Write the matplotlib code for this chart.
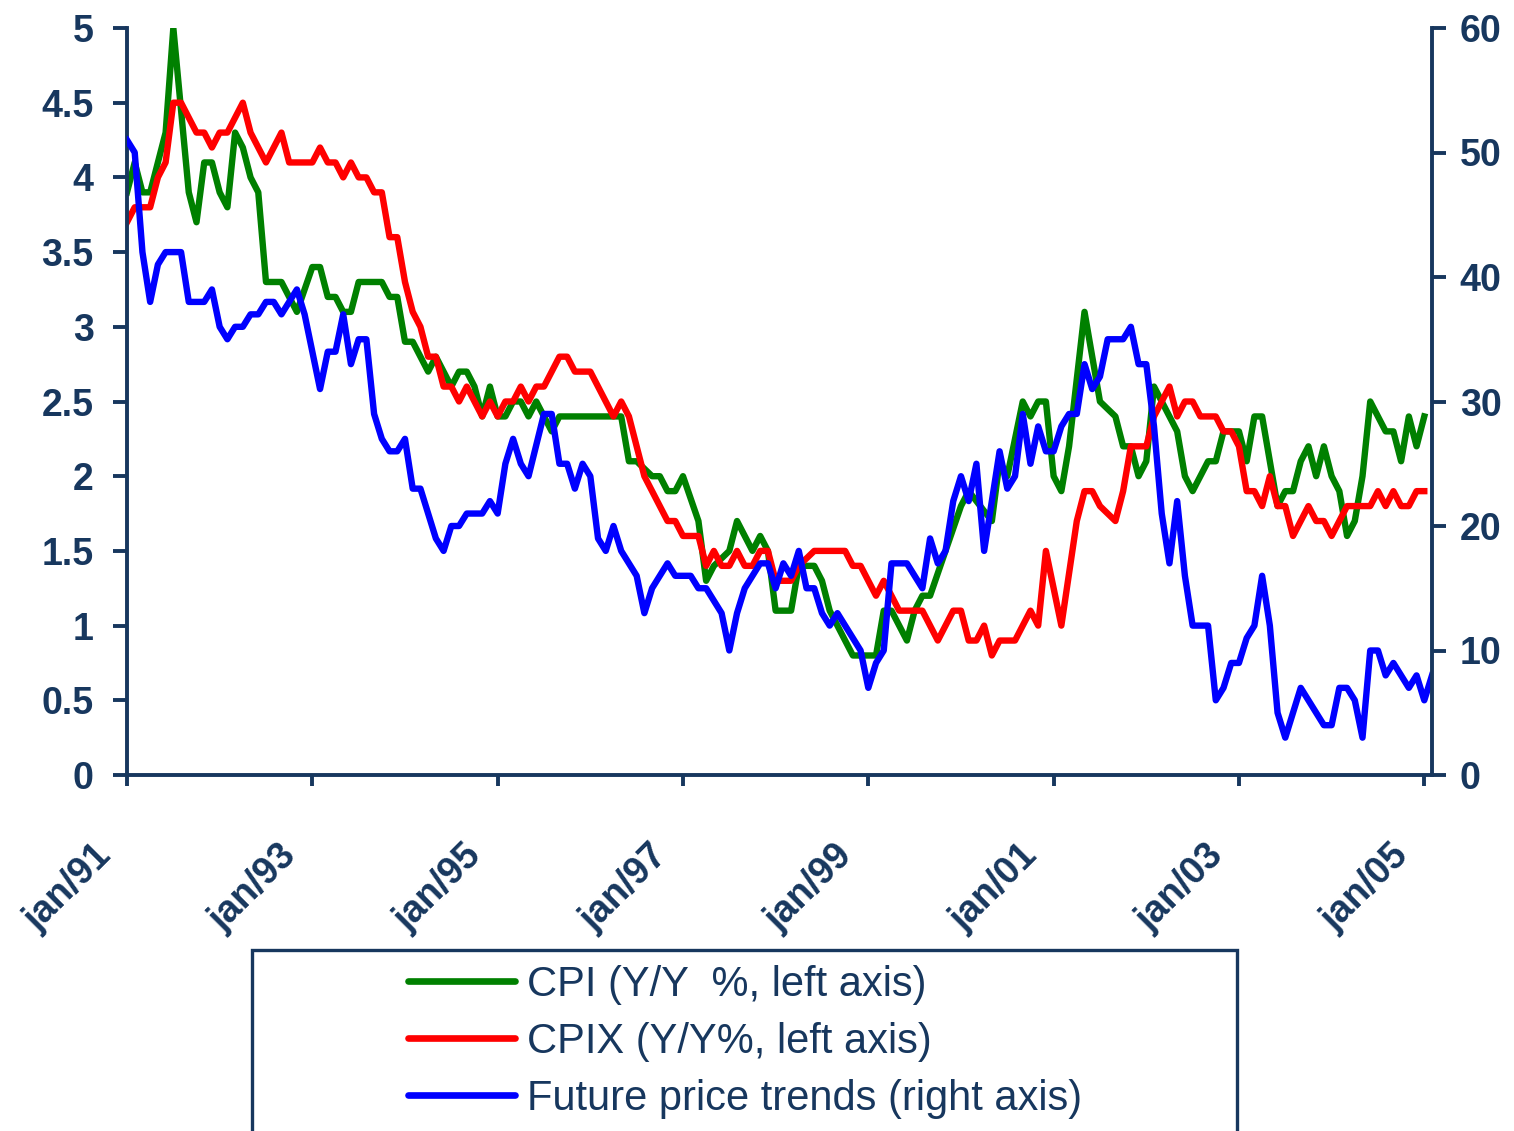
import numpy as np
import matplotlib
matplotlib.use("Agg")
import matplotlib.pyplot as plt
import matplotlib.transforms as mtransforms
from matplotlib import font_manager
from matplotlib.patches import Rectangle

plt.rcParams['font.family'] = ['Liberation Sans', 'DejaVu Sans']

# months counted from jan/91 (0) to jan/05 (168); vertices
cpi_month = [0, 1, 2, 3, 5, 6, 8, 9, 10, 11, 12, 13, 14, 15, 16, 17, 18, 20, 21, 22,
             24, 25, 26, 27, 28, 29, 30, 33, 34, 35, 36, 37, 38, 39, 40, 41, 42, 43, 44,
             45, 46, 47, 48, 49, 50, 51, 52, 53, 55, 56, 63, 64, 65, 66, 68, 69, 70, 71,
             72, 74, 75, 76, 78, 79, 81, 82, 83, 84, 86, 87, 89, 90, 91, 92, 94, 97, 98,
             99, 101, 102, 103, 104, 106, 108, 109, 112, 113, 114, 116, 117, 118, 119,
             120, 121, 122, 124, 126, 128, 129, 130, 131, 132, 133, 134, 136, 137, 138,
             140, 141, 142, 144, 145, 146, 147, 149, 150, 151, 152, 153, 154, 155, 156,
             157, 158, 159, 160, 161, 163, 164, 165, 166, 167, 168]
cpi = [3.9, 4.1, 3.9, 3.9, 4.3, 5.0, 3.9, 3.7, 4.1, 4.1, 3.9, 3.8, 4.3, 4.2, 4.0, 3.9, 3.3, 3.3, 3.2, 3.1,
       3.4, 3.4, 3.2, 3.2, 3.1, 3.1, 3.3, 3.3, 3.2, 3.2, 2.9, 2.9, 2.8, 2.7, 2.8, 2.7, 2.6, 2.7, 2.7,
       2.6, 2.4, 2.6, 2.4, 2.4, 2.5, 2.5, 2.4, 2.5, 2.3, 2.4, 2.4, 2.4, 2.1, 2.1, 2.0, 2.0, 1.9, 1.9,
       2.0, 1.7, 1.3, 1.4, 1.5, 1.7, 1.5, 1.6, 1.5, 1.1, 1.1, 1.4, 1.4, 1.3, 1.1, 1.0, 0.8, 0.8, 1.1,
       1.1, 0.9, 1.1, 1.2, 1.2, 1.5, 1.8, 1.9, 1.7, 2.1, 2.0, 2.5, 2.4, 2.5, 2.5,
       2.0, 1.9, 2.2, 3.1, 2.5, 2.4, 2.2, 2.2, 2.0, 2.1, 2.6, 2.5, 2.3, 2.0, 1.9,
       2.1, 2.1, 2.3, 2.3, 2.1, 2.4, 2.4, 1.8, 1.9, 1.9, 2.1, 2.2, 2.0, 2.2, 2.0,
       1.9, 1.6, 1.7, 2.0, 2.5, 2.3, 2.3, 2.1, 2.4, 2.2, 2.4]

cpix_month = [0, 1, 3, 4, 5, 6, 7, 9, 10, 11, 12, 13, 15, 16, 18, 20, 21, 24, 25, 26, 27,
              28, 29, 30, 31, 32, 33, 34, 35, 36, 37, 38, 39, 40, 41, 42, 43, 44, 46, 47,
              48, 49, 50, 51, 52, 53, 54, 56, 57, 58, 60, 61, 63, 64, 65, 67, 69, 70, 71,
              72, 74, 75, 76, 77, 78, 79, 80, 81, 82, 83, 84, 86, 87, 89, 93, 94, 95, 96,
              97, 98, 99, 100, 103, 105, 107, 108, 109, 110, 111, 112, 113, 115, 117, 118,
              119, 121, 123, 124, 125, 126, 128, 129, 130, 132, 133, 134, 135, 136, 137,
              138, 139, 141, 142, 143, 144, 145, 146, 147, 148, 149, 150, 151, 153, 154,
              155, 156, 158, 161, 162, 163, 164, 165, 166, 167, 168]
cpix = [3.7, 3.8, 3.8, 4.0, 4.1, 4.5, 4.5, 4.3, 4.3, 4.2, 4.3, 4.3, 4.5, 4.3, 4.1, 4.3, 4.1, 4.1, 4.2, 4.1, 4.1,
        4.0, 4.1, 4.0, 4.0, 3.9, 3.9, 3.6, 3.6, 3.3, 3.1, 3.0, 2.8, 2.8, 2.6, 2.6, 2.5, 2.6, 2.4, 2.5,
        2.4, 2.5, 2.5, 2.6, 2.5, 2.6, 2.6, 2.8, 2.8, 2.7, 2.7, 2.6, 2.4, 2.5, 2.4, 2.0, 1.8, 1.7, 1.7,
        1.6, 1.6, 1.4, 1.5, 1.4, 1.4, 1.5, 1.4, 1.4, 1.5, 1.5, 1.3, 1.3, 1.4, 1.5, 1.5, 1.4, 1.4, 1.3,
        1.2, 1.3, 1.2, 1.1, 1.1, 0.9, 1.1, 1.1, 0.9, 0.9, 1.0, 0.8, 0.9, 0.9, 1.1, 1.0,
        1.5, 1.0, 1.7, 1.9, 1.9, 1.8, 1.7, 1.9, 2.2, 2.2, 2.4, 2.5, 2.6, 2.4, 2.5,
        2.5, 2.4, 2.4, 2.3, 2.3, 2.2, 1.9, 1.9, 1.8, 2.0, 1.8, 1.8, 1.6, 1.8, 1.7,
        1.7, 1.6, 1.8, 1.8, 1.9, 1.8, 1.9, 1.8, 1.8, 1.9, 1.9]

trend_month = [0, 1, 2, 3, 4, 5, 7, 8, 10, 11, 12, 13, 14, 15, 16, 17, 18, 19, 20, 22, 23,
               25, 26, 27, 28, 29, 30, 31, 32, 33, 34, 35, 36, 37, 38, 39, 40, 41, 42, 43,
               44, 46, 47, 48, 49, 50, 51, 52, 54, 55, 56, 57, 58, 59, 60, 61, 62, 63, 64,
               66, 67, 68, 70, 71, 73, 74, 75, 77, 78, 79, 80, 82, 83, 84, 85, 86, 87, 88,
               89, 90, 91, 92, 93, 94, 95, 96, 97, 98, 99, 101, 103, 104, 105, 106, 107,
               108, 109, 110, 111, 113, 114, 115, 116, 117, 118, 119, 120, 121, 122, 123,
               124, 125, 126, 127, 129, 130, 131, 132, 133, 134, 135, 136, 137, 138, 140,
               141, 142, 143, 144, 145, 146, 147, 148, 149, 150, 152, 153, 154, 155, 156,
               157, 158, 159, 160, 161, 162, 163, 164, 165, 166, 167, 168, 169]
trend = [51, 50, 42, 38, 41, 42, 42, 38, 38, 39, 36, 35, 36, 36, 37, 37, 38, 38, 37, 39, 37,
         31, 34, 34, 37, 33, 35, 35, 29, 27, 26, 26, 27, 23, 23, 21, 19, 18, 20, 20,
         21, 21, 22, 21, 25, 27, 25, 24, 29, 29, 25, 25, 23, 25, 24, 19, 18, 20, 18,
         16, 13, 15, 17, 16, 16, 15, 15, 13, 10, 13, 15, 17, 17, 15, 17, 16, 18, 15,
         15, 13, 12, 13, 12, 11, 10, 7, 9, 10, 17, 17, 15, 19, 17, 18, 22,
         24, 22, 25, 18, 26, 23, 24, 29, 25, 28, 26, 26, 28, 29, 29,
         33, 31, 32, 35, 35, 36, 33, 33, 28, 21, 17, 22, 16, 12, 12,
         6, 7, 9, 9, 11, 12, 16, 12, 5, 3, 7, 6, 5, 4, 4,
         7, 7, 6, 3, 10, 10, 8, 9, 8, 7, 8, 6, 8]

tick_months = [0, 24, 48, 72, 96, 120, 144, 168]
tick_labels = ['jan/91', 'jan/93', 'jan/95', 'jan/97', 'jan/99', 'jan/01', 'jan/03', 'jan/05']
left_ticks = [0, 0.5, 1, 1.5, 2, 2.5, 3, 3.5, 4, 4.5, 5]
right_ticks = [0, 10, 20, 30, 40, 50, 60]

navy = '#17375E'
W, H = 1514, 1131

# legend text in the original is a narrow face; use one if it is installed
installed = {f.name for f in font_manager.fontManager.ttflist}
if 'Liberation Sans Narrow' in installed:
    leg_family, leg_size = ['Liberation Sans Narrow', 'DejaVu Sans'], 36
else:
    leg_family, leg_size = ['Liberation Sans', 'DejaVu Sans'], 30
em = leg_size * 100 / 72.0

fig = plt.figure(figsize=(W / 100, H / 100), dpi=100)
ax = fig.add_axes([127 / W, 1 - 775 / H, (1432 - 127) / W, (775 - 28) / H])
ax2 = ax.twinx()

l1, = ax.plot(cpi_month, cpi, color='#008000', lw=4.6, label='CPI (Y/Y  %, left axis)')
l2, = ax.plot(cpix_month, cpix, color='#FF0000', lw=4.6, label='CPIX (Y/Y%, left axis)')
l3, = ax2.plot(trend_month, trend, color='#0000FF', lw=4.6, label='Future price trends (right axis)')

ax.set_xlim(0, 169)
ax.set_ylim(0, 5)
ax2.set_ylim(0, 60)

ax.set_yticks(left_ticks)
ax.set_yticklabels(['%g' % t for t in left_ticks])
ax2.set_yticks(right_ticks)
ax.set_xticks(tick_months)
ax.set_xticklabels(tick_labels, rotation=45, ha='right', va='top', rotation_mode='anchor')

for a in (ax, ax2):
    a.spines['top'].set_visible(False)
    for s in ('left', 'right', 'bottom'):
        a.spines[s].set_color(navy)
        a.spines[s].set_linewidth(2.8)
ax.spines['right'].set_visible(False)
ax2.spines['left'].set_visible(False)
ax2.spines['bottom'].set_visible(False)

ax.tick_params(axis='y', direction='out', length=10, width=2.8, color=navy,
               labelsize=27, labelcolor=navy, pad=14)
ax.tick_params(axis='x', direction='out', length=8, width=2.8, color=navy,
               labelsize=27, labelcolor=navy, pad=37)
ax2.tick_params(axis='y', direction='out', length=10, width=2.8, color=navy,
                labelsize=27, labelcolor=navy, pad=10)
shift = mtransforms.ScaledTranslation(-0.34, 0, fig.dpi_scale_trans)
for lab in ax.get_xticklabels():
    lab.set_transform(lab.get_transform() + shift)
for lab in ax.get_xticklabels() + ax.get_yticklabels() + ax2.get_yticklabels():
    lab.set_fontweight('bold')

# legend frame, running off the bottom of the figure
fig.patches.append(Rectangle((252 / W, -0.01), (1237 - 252) / W, 0.01 + (H - 950) / H,
                             transform=fig.transFigure, fill=False, edgecolor=navy, lw=2.4))
text_h = 0.97 * em
leg = fig.legend(handles=[l1, l2, l3], loc='upper left',
                 bbox_to_anchor=(408 / W, 1 - (985 - text_h / 2) / H), frameon=False,
                 borderpad=0, borderaxespad=0,
                 prop={'family': leg_family, 'size': leg_size},
                 handlelength=107 / em, handletextpad=12 / em,
                 labelspacing=(57.5 - text_h) / em)
for t in leg.get_texts():
    t.set_color(navy)
for h in leg.legend_handles:
    h.set_linewidth(4.8)
    h.set_solid_capstyle('round')

fig.savefig('out.png', dpi=100)
